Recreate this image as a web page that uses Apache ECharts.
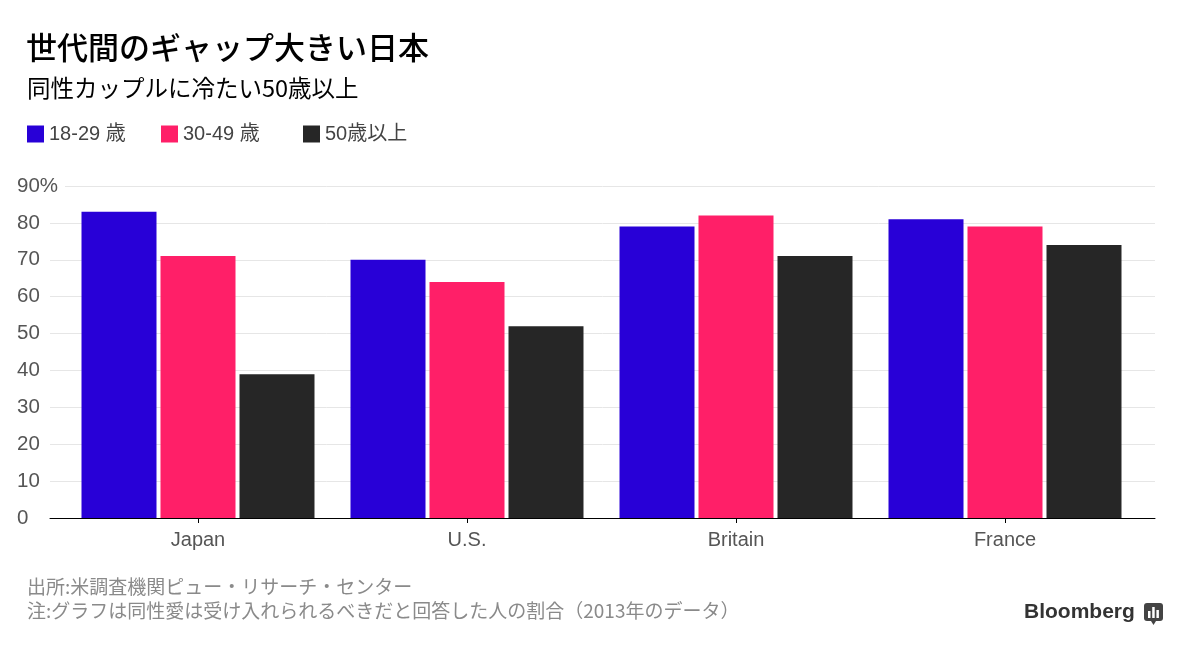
<!DOCTYPE html>
<html>
<head>
<meta charset="utf-8">
<script src="https://cdn.jsdelivr.net/npm/echarts@6/dist/echarts.min.js"></script>
<style>
html,body{margin:0;padding:0;background:#fff;}
#c{width:1192px;height:657px;}
</style>
</head>
<body>
<div id="c"></div>
<script>
const categories = ['Japan', 'U.S.', 'Britain', 'France'];
const seriesNames = ['18-29 歳', '30-49 歳', '50歳以上'];
const age18_29 = [83, 70, 79, 81];
const age30_49 = [71, 64, 82, 79];
const age50plus = [39, 52, 71, 74];
const yTicks = [0, 10, 20, 30, 40, 50, 60, 70, 80, 90];
const colors = ['#2800d7', '#ff1f68', '#262626'];

const FONT = '"Liberation Sans", "Noto Sans CJK JP", sans-serif';
const JFONT = '"Noto Sans CJK JP", "Liberation Sans", sans-serif';

const chart = echarts.init(document.getElementById('c'), null, {renderer: 'canvas'});

const legendLefts = [27, 161, 303];
const legends = seriesNames.map((n, i) => ({
  data: [n],
  left: legendLefts[i],
  top: 124,
  padding: 0,
  icon: 'rect',
  itemWidth: 17,
  itemHeight: 17,
  itemGap: 0,
  textStyle: {fontSize: 20, color: '#444', fontFamily: FONT},
  selectedMode: false
}));

const dataSets = [age18_29, age30_49, age50plus];

chart.setOption({
  animation: false,
  backgroundColor: '#fff',
  color: colors,
  title: [
    {text: '世代間のギャップ大きい日本', left: 26, top: 32, padding: 0,
     textStyle: {fontSize: 31, fontWeight: 500, color: '#000', fontFamily: JFONT}},
    {text: '同性カップルに冷たい50歳以上', left: 27, top: 76, padding: 0,
     textStyle: {fontSize: 23.5, fontWeight: 'normal', color: '#000', fontFamily: JFONT}},
    {text: '出所:米調査機関ピュー・リサーチ・センター', left: 27, top: 577, padding: 0,
     textStyle: {fontSize: 19, fontWeight: 'normal', color: '#8a8a8a', fontFamily: JFONT}},
    {text: '注:グラフは同性愛は受け入れられるべきだと回答した人の割合（2013年のデータ）', left: 27, top: 601, padding: 0,
     textStyle: {fontSize: 19, fontWeight: 'normal', color: '#8a8a8a', fontFamily: JFONT}}
  ],
  legend: legends,
  grid: [
    {left: 50, right: 37, top: 186, bottom: 139, containLabel: false},
    {left: 63.5, right: 52.5, top: 186, bottom: 139, containLabel: false}
  ],
  xAxis: [
    {type: 'category', gridIndex: 0, data: categories,
     axisLine: {show: true, lineStyle: {color: '#000', width: 1}},
     axisTick: {show: false}, axisLabel: {show: false}, splitLine: {show: false}},
    {type: 'category', gridIndex: 1, data: categories,
     axisLine: {show: true, lineStyle: {color: '#000', width: 1}},
     axisTick: {show: true, alignWithLabel: true, length: 5, lineStyle: {color: '#000'}},
     axisLabel: {fontSize: 20, color: '#555', margin: 12, fontFamily: FONT},
     splitLine: {show: false}}
  ],
  yAxis: [
    {type: 'value', gridIndex: 0, min: yTicks[0], max: yTicks[yTicks.length - 1], interval: 10,
     axisLine: {show: false}, axisTick: {show: false},
     axisLabel: {
       formatter: v => v === 90 ? '90%' : String(v),
       align: 'left', margin: 33, fontSize: 20.5, color: '#555', fontFamily: FONT,
       backgroundColor: '#fff', padding: [0, 7, 0, 0]
     },
     splitLine: {show: true, lineStyle: {color: '#e6e6e6', width: 1}}},
    {type: 'value', gridIndex: 1, min: yTicks[0], max: yTicks[yTicks.length - 1], interval: 10, show: false,
     splitLine: {show: false}}
  ],
  series: seriesNames.map((n, i) => ({
    name: n,
    type: 'bar',
    xAxisIndex: 1,
    yAxisIndex: 1,
    data: dataSets[i],
    barWidth: 75,
    barGap: '5.33%',
    itemStyle: {color: colors[i]}
  })),
  graphic: [
    {type: 'text', left: 1024, top: 602,
     style: {text: 'Bloomberg', fontSize: 21, fontWeight: 'bold', fill: '#333', fontFamily: FONT}},
    {type: 'group', left: 1144, top: 603, children: [
      {type: 'rect', shape: {x: 0, y: 0, width: 19, height: 18, r: 3}, style: {fill: '#444'}},
      {type: 'polygon', shape: {points: [[7, 18], [12, 18], [9.5, 22]]}, style: {fill: '#444'}},
      {type: 'rect', shape: {x: 4, y: 8, width: 2.5, height: 7}, style: {fill: '#fff'}},
      {type: 'rect', shape: {x: 8.2, y: 4, width: 2.5, height: 11}, style: {fill: '#fff'}},
      {type: 'rect', shape: {x: 12.4, y: 7, width: 2.5, height: 8}, style: {fill: '#fff'}}
    ]}
  ]
});
</script>
</body>
</html>
